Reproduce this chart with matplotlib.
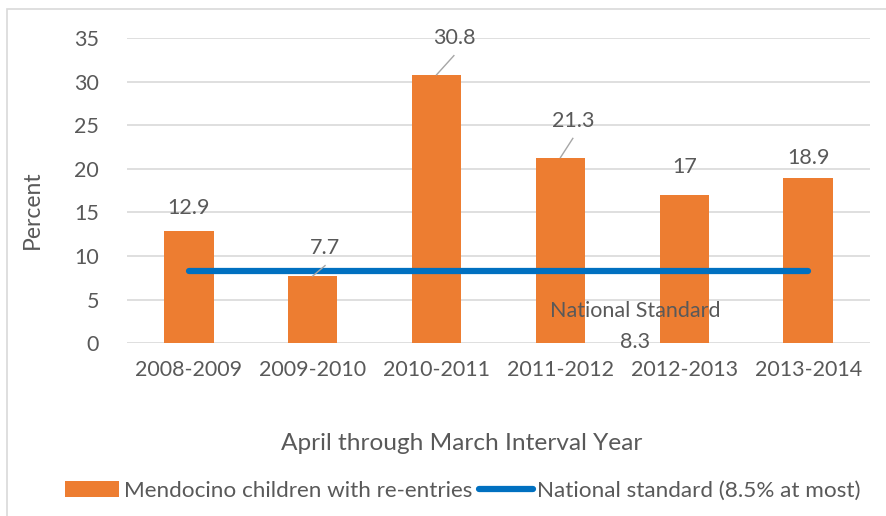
import numpy as np
import matplotlib.pyplot as plt
from matplotlib.patches import Rectangle

years = ['2008-2009', '2009-2010', '2010-2011', '2011-2012', '2012-2013', '2013-2014']
reentries = [12.9, 7.7, 30.8, 21.3, 17, 18.9]
national = [8.3, 8.3, 8.3, 8.3, 8.3, 8.3]

plt.rcParams['font.family'] = ['Lato', 'DejaVu Sans']
txt = '#595959'

fig = plt.figure(figsize=(8.87, 5.16), dpi=100)
ax = fig.add_axes([0.143, 0.335, 0.838, 0.591])

# outer chart frame
fig.patches.append(Rectangle((0.008, -0.1), 1.1, 1.083, transform=fig.transFigure,
                             fill=False, edgecolor='#D9D9D9', lw=1.2))

x = np.arange(len(years))
ax.bar(x, reentries, width=0.4, color='#ED7D31', zorder=2,
       label='Mendocino children with re-entries')
ax.plot(x, national, color='#0070C0', lw=4.5, solid_capstyle='round', zorder=3,
        label='National standard (8.5% at most)')

ax.set_xlim(-0.5, len(years) - 0.5)
ax.set_ylim(0, 35)
ax.set_yticks(range(0, 36, 5))
ax.set_xticks(x)
ax.set_xticklabels(years)
ax.tick_params(length=0, labelsize=15.5, colors=txt, pad=12)
ax.tick_params(axis='y', pad=20)
ax.grid(axis='y', color='#D9D9D9', lw=1.2, zorder=0)
for s in ax.spines.values():
    s.set_visible(False)

ax.set_ylabel('Percent', fontsize=16.5, color=txt)
ax.yaxis.set_label_coords(-0.113, 0.436)
ax.set_xlabel('April through March Interval Year', fontsize=17.6, color=txt)
ax.xaxis.set_label_coords(0.45, -0.295)

# value labels; some are pushed up with a leader line
offsets = [2.6, 3.2, 4.2, 4.2, 3.2, 2.3]
shifts = [0, 0.1, 0.14, 0.1, 0, 0]
leaders = [False, True, True, True, False, False]
for i, v in enumerate(reentries):
    ax.text(i + shifts[i], v + offsets[i], f'{v:g}', ha='center', va='center',
            fontsize=15.5, color=txt)
    if leaders[i]:
        ax.plot([i, i + shifts[i]], [v, v + offsets[i] - 2.0], color='#A6A6A6', lw=1, zorder=4)

ax.text(3.6, 3.7, 'National Standard', ha='center', va='center', fontsize=15.5, color=txt)
ax.text(3.6, 0.1, f'{national[0]:g}', ha='center', va='center', fontsize=15.5, color=txt)

handles, labels = ax.get_legend_handles_labels()
order = [1, 0]
fig.legend([handles[k] for k in order], [labels[k] for k in order],
           loc='center', bbox_to_anchor=(0.522, 0.048), ncol=2, frameon=False,
           fontsize=16.2, labelcolor=txt, handlelength=2.4, handletextpad=0.2,
           columnspacing=0.3)

fig.savefig('out.png', dpi=100)
